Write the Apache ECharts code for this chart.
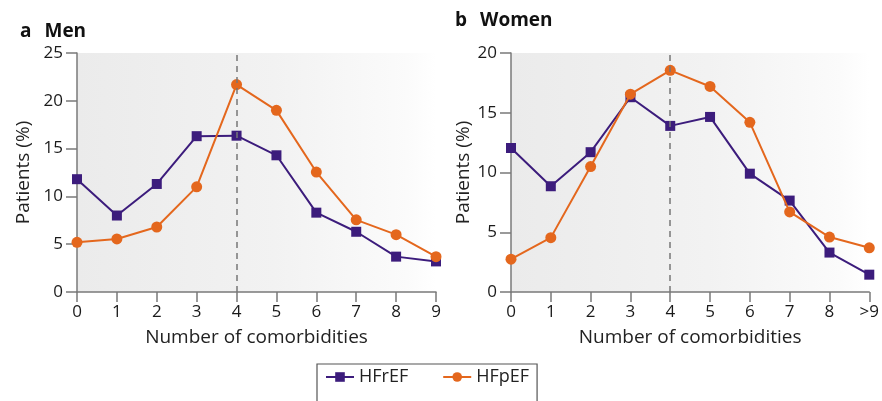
<!DOCTYPE html>
<html>
<head>
<meta charset="utf-8">
<script src="https://cdn.jsdelivr.net/npm/echarts@6/dist/echarts.min.js"></script>
<style>
  html, body { margin: 0; padding: 0; background: #fff; }
  #chart { width: 882px; height: 401px; }
</style>
</head>
<body>
<div id="chart"></div>
<script>
  // categories
  const menCats = ['0', '1', '2', '3', '4', '5', '6', '7', '8', '9'];
  const womenCats = ['0', '1', '2', '3', '4', '5', '6', '7', '8', '>9'];

  // values (% of patients)
  const menHFrEF = [11.8, 8.0, 11.3, 16.3, 16.35, 14.3, 8.3, 6.3, 3.7, 3.2];
  const menHFpEF = [5.2, 5.55, 6.8, 11.0, 21.7, 19.0, 12.55, 7.55, 6.0, 3.7];
  const womenHFrEF = [12.05, 8.85, 11.7, 16.3, 13.9, 14.65, 9.9, 7.65, 3.3, 1.45];
  const womenHFpEF = [2.75, 4.55, 10.5, 16.55, 18.55, 17.2, 14.2, 6.7, 4.6, 3.7];

  // y ticks
  const menYMax = 25;
  const womenYMax = 20;
  const yStep = 5;
  const refLine = '4';

  const purple = '#3c1c7c';
  const orange = '#e4671d';
  const axisGray = '#7a7a7a';
  const font = 'Open Sans';

  const bg = {
    type: 'linear', x: 0, y: 0, x2: 1, y2: 0,
    colorStops: [
      { offset: 0, color: '#ebebeb' },
      { offset: 0.55, color: '#f2f2f2' },
      { offset: 0.92, color: '#fbfbfb' },
      { offset: 1, color: '#ffffff' }
    ]
  };

  const xAxisFor = (idx, cats) => ({
    type: 'category',
    gridIndex: idx,
    data: cats,
    boundaryGap: false,
    name: 'Number of comorbidities',
    nameLocation: 'middle',
    nameGap: 36,
    nameTextStyle: { color: '#222', fontSize: 19, fontFamily: font },
    axisLine: { lineStyle: { color: axisGray, width: 1.5 } },
    axisTick: { show: true, length: 10, alignWithLabel: true, lineStyle: { color: axisGray, width: 1.5 } },
    axisLabel: { color: '#1a1a1a', fontSize: 17, fontFamily: font, margin: 12, interval: 0 },
    splitLine: { show: false }
  });

  const yAxisFor = (idx, max, gap) => ({
    type: 'value',
    gridIndex: idx,
    min: 0,
    max: max,
    interval: yStep,
    name: 'Patients (%)',
    nameLocation: 'middle',
    nameGap: gap,
    nameTextStyle: { color: '#222', fontSize: 19, fontFamily: font },
    axisLine: { show: true, lineStyle: { color: axisGray, width: 1.5 } },
    axisTick: { show: true, length: 11, lineStyle: { color: axisGray, width: 1.5 } },
    axisLabel: { color: '#1a1a1a', fontSize: 17, fontFamily: font, margin: 14 },
    splitLine: { show: false }
  });

  const dashLine = {
    silent: true,
    symbol: 'none',
    label: { show: false },
    lineStyle: { color: '#777', type: [6, 5], width: 1.5 },
    data: [{ xAxis: refLine }]
  };

  const lineSeries = (name, data, idx, color, symbol, size, withMark) => {
    const s = {
      name: name,
      type: 'line',
      xAxisIndex: idx,
      yAxisIndex: idx,
      data: data,
      symbol: symbol,
      symbolSize: size,
      showAllSymbol: true,
      lineStyle: { color: color, width: 2 },
      itemStyle: { color: color },
      emphasis: { disabled: true },
      z: symbol === 'circle' ? 3 : 2
    };
    if (withMark) s.markLine = dashLine;
    return s;
  };

  const titleRich = {
    l: { fontSize: 19, fontWeight: 'bold', color: '#111', fontFamily: font, padding: [0, 13, 0, 0] },
    t: { fontSize: 19, fontWeight: 'bold', color: '#111', fontFamily: font }
  };

  const chart = echarts.init(document.getElementById('chart'));
  chart.setOption({
    animation: false,
    textStyle: { fontFamily: font },
    title: [
      { text: '{l|a}{t|Men}', left: 15, top: 17, textStyle: { rich: titleRich } },
      { text: '{l|b}{t|Women}', left: 450, top: 6, textStyle: { rich: titleRich } }
    ],
    legend: {
      left: 317,
      top: 364,
      padding: [4, 8, 40, 8],
      borderColor: '#555',
      borderWidth: 1.2,
      borderRadius: 0,
      backgroundColor: '#fff',
      itemWidth: 28,
      itemHeight: 12,
      itemGap: 34,
      textStyle: { color: '#222', fontSize: 18, fontFamily: font },
      data: ['HFrEF', 'HFpEF']
    },
    grid: [
      { left: 77, top: 53, width: 359, height: 239, show: true, borderWidth: 0, backgroundColor: bg },
      { left: 511, top: 53, width: 359, height: 239, show: true, borderWidth: 0, backgroundColor: bg }
    ],
    xAxis: [xAxisFor(0, menCats), xAxisFor(1, womenCats)],
    yAxis: [yAxisFor(0, menYMax, 44), yAxisFor(1, womenYMax, 38)],
    series: [
      lineSeries('HFrEF', menHFrEF, 0, purple, 'rect', 10, true),
      lineSeries('HFpEF', menHFpEF, 0, orange, 'circle', 11, false),
      lineSeries('HFrEF', womenHFrEF, 1, purple, 'rect', 10, true),
      lineSeries('HFpEF', womenHFpEF, 1, orange, 'circle', 11, false)
    ]
  });
</script>
</body>
</html>
